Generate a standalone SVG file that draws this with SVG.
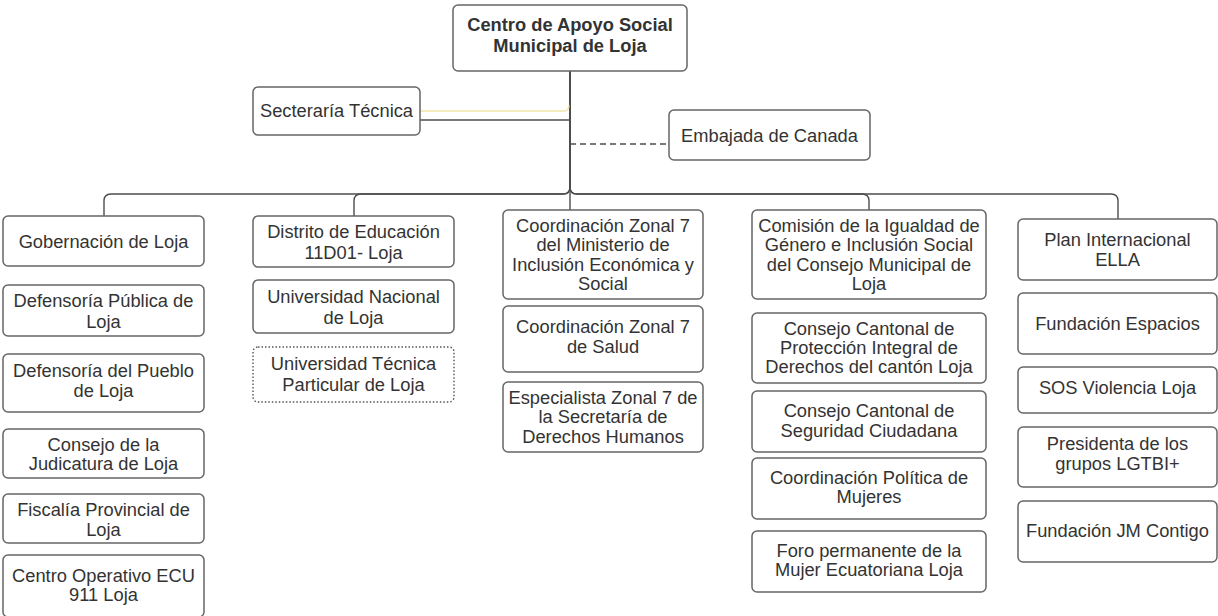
<svg xmlns="http://www.w3.org/2000/svg" width="1218" height="616" viewBox="0 0 1218 616">
<style>
.box{fill:#fff;stroke:#666;stroke-width:1.5}
.dot{fill:#fff;stroke:#555;stroke-width:1.4;stroke-dasharray:1.5 2}
.t{font-family:"Liberation Sans",Arial,sans-serif;font-size:18.3px;fill:#333;text-anchor:middle}
.b{font-weight:bold}
.c{fill:none;stroke:#4d4d4d;stroke-width:1.4}
</style>
<rect width="1218" height="616" fill="#fff"/>
<g id="connectors">
<path class="c" d="M570,71 V187 Q570,194 563,194 H111 Q104,194 104,201 V216"/>
<path class="c" d="M570,71 V187 Q570,194 563,194 H361 Q354,194 354,201 V216"/>
<path class="c" d="M570,71 V210"/>
<path class="c" d="M570,71 V187 Q570,194 577,194 H862 Q869,194 869,201 V210"/>
<path class="c" d="M570,71 V187 Q570,194 577,194 H1111 Q1118,194 1118,201 V219"/>
<path class="c" d="M420,120 H570"/>
<path d="M420,111 H564 Q569,111 569,105" fill="none" stroke="#f2e6a6" stroke-width="1.3"/>
<path class="c" d="M570,144 H669" stroke-dasharray="6 4"/>
</g>
<g id="root"><rect class="box" x="453" y="5" width="234" height="66" rx="5"/>
<text class="t b" x="570" y="31">Centro de Apoyo Social</text><text class="t b" x="570" y="52">Municipal de Loja</text></g>
<g id="secretaria"><rect class="box" x="253" y="87" width="167" height="48" rx="5"/>
<text class="t" x="336.5" y="117">Secteraría Técnica</text></g>
<g id="embajada"><rect class="box" x="669" y="110" width="201" height="50" rx="5"/>
<text class="t" x="769.5" y="141.5">Embajada de Canada</text></g>

<g id="gobernacion"><rect class="box" x="3" y="216" width="201" height="50" rx="5"/>
<text class="t" x="103.5" y="247.5">Gobernación de Loja</text></g>
<g id="defensoria-publica"><rect class="box" x="3" y="285" width="201" height="51" rx="5"/>
<text class="t" x="103.5" y="306.5">Defensoría Pública de</text><text class="t" x="103.5" y="328">Loja</text></g>
<g id="defensoria-pueblo"><rect class="box" x="3" y="354" width="201" height="58" rx="5"/>
<text class="t" x="103.5" y="376.5">Defensoría del Pueblo</text><text class="t" x="103.5" y="397">de Loja</text></g>
<g id="consejo-judicatura"><rect class="box" x="3" y="429" width="201" height="49" rx="5"/>
<text class="t" x="103.5" y="450.5">Consejo de la</text><text class="t" x="103.5" y="470">Judicatura de Loja</text></g>
<g id="fiscalia"><rect class="box" x="3" y="494" width="201" height="49" rx="5"/>
<text class="t" x="103.5" y="515.5">Fiscalía Provincial de</text><text class="t" x="103.5" y="535.5">Loja</text></g>
<g id="ecu911"><rect class="box" x="3" y="555" width="201" height="62" rx="5"/>
<text class="t" x="103.5" y="581.5">Centro Operativo ECU</text><text class="t" x="103.5" y="600.5">911 Loja</text></g>

<g id="distrito"><rect class="box" x="253" y="216" width="201" height="51" rx="5"/>
<text class="t" x="353.5" y="237.5">Distrito de Educación</text><text class="t" x="353.5" y="258.5">11D01- Loja</text></g>
<g id="unl"><rect class="box" x="253" y="280" width="201" height="53" rx="5"/>
<text class="t" x="353.5" y="302.5">Universidad Nacional</text><text class="t" x="353.5" y="323.5">de Loja</text></g>
<g id="utpl"><rect class="dot" x="253" y="347" width="201" height="55" rx="5"/>
<text class="t" x="353.5" y="369.5">Universidad Técnica</text><text class="t" x="353.5" y="390.5">Particular de Loja</text></g>

<g id="mies"><rect class="box" x="503" y="210" width="200" height="89" rx="5"/>
<text class="t" x="603" y="231.5">Coordinación Zonal 7</text><text class="t" x="603" y="251">del Ministerio de</text><text class="t" x="603" y="270.5">Inclusión Económica y</text><text class="t" x="603" y="290">Social</text></g>
<g id="salud"><rect class="box" x="503" y="306" width="200" height="66" rx="5"/>
<text class="t" x="603" y="332.5">Coordinación Zonal 7</text><text class="t" x="603" y="353">de Salud</text></g>
<g id="ddhh"><rect class="box" x="503" y="382" width="200" height="70" rx="5"/>
<text class="t" x="603" y="404">Especialista Zonal 7 de</text><text class="t" x="603" y="423">la Secretaría de</text><text class="t" x="603" y="442.5">Derechos Humanos</text></g>

<g id="comision"><rect class="box" x="752" y="210" width="234" height="89" rx="5"/>
<text class="t" x="869" y="231.5">Comisión de la Igualdad de</text><text class="t" x="869" y="251">Género e Inclusión Social</text><text class="t" x="869" y="270.5">del Consejo Municipal de</text><text class="t" x="869" y="290">Loja</text></g>
<g id="proteccion"><rect class="box" x="752" y="313" width="234" height="70" rx="5"/>
<text class="t" x="869" y="334.5">Consejo Cantonal de</text><text class="t" x="869" y="354">Protección Integral de</text><text class="t" x="869" y="373">Derechos del cantón Loja</text></g>
<g id="seguridad"><rect class="box" x="752" y="391" width="234" height="61" rx="5"/>
<text class="t" x="869" y="417">Consejo Cantonal de</text><text class="t" x="869" y="436.5">Seguridad Ciudadana</text></g>
<g id="politica"><rect class="box" x="752" y="458" width="234" height="61" rx="5"/>
<text class="t" x="869" y="483.5">Coordinación Política de</text><text class="t" x="869" y="503">Mujeres</text></g>
<g id="foro"><rect class="box" x="752" y="531" width="234" height="61" rx="5"/>
<text class="t" x="869" y="556.5">Foro permanente de la</text><text class="t" x="869" y="575.5">Mujer Ecuatoriana Loja</text></g>

<g id="plan"><rect class="box" x="1018" y="219" width="199" height="61" rx="5"/>
<text class="t" x="1117.5" y="245.5">Plan Internacional</text><text class="t" x="1117.5" y="266">ELLA</text></g>
<g id="espacios"><rect class="box" x="1018" y="293" width="199" height="61" rx="5"/>
<text class="t" x="1117.5" y="329.5">Fundación Espacios</text></g>
<g id="sos"><rect class="box" x="1018" y="367" width="199" height="46" rx="5"/>
<text class="t" x="1117.5" y="393.5">SOS Violencia Loja</text></g>
<g id="lgtbi"><rect class="box" x="1018" y="427" width="199" height="60" rx="5"/>
<text class="t" x="1117.5" y="449.5">Presidenta de los</text><text class="t" x="1117.5" y="469.5">grupos LGTBI+</text></g>
<g id="jm"><rect class="box" x="1018" y="501" width="199" height="61" rx="5"/>
<text class="t" x="1117.5" y="536.5">Fundación JM Contigo</text></g>
</svg>
